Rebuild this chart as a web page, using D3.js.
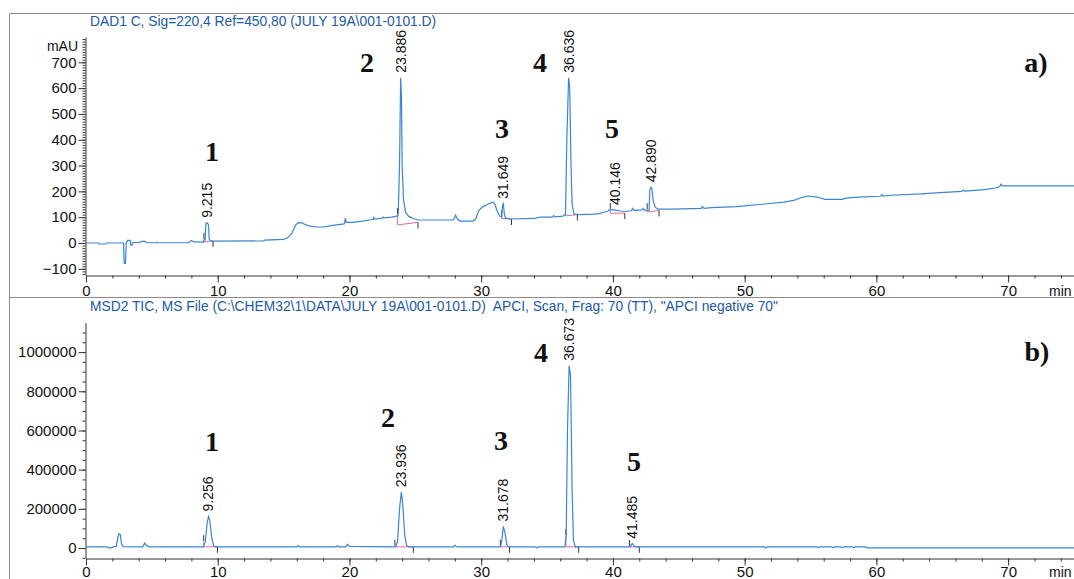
<!DOCTYPE html>
<html>
<head>
<meta charset="utf-8">
<script src="https://cdn.jsdelivr.net/npm/d3@7"></script>
<style>
  body { margin: 0; background: #fff; }
  svg { display: block; font-family: "Liberation Sans", Arial, sans-serif; }
</style>
</head>
<body>
<svg class="chart" width="1074" height="579"></svg>
<script>
// values

var dadTitle = "DAD1 C, Sig=220,4 Ref=450,80 (JULY 19A\\001-0101.D)";
var ticTitle = 'MSD2 TIC, MS File (C:\\CHEM32\\1\\DATA\\JULY 19A\\001-0101.D)  APCI, Scan, Frag: 70 (TT), "APCI negative 70"';

var timeTicks = [0, 10, 20, 30, 40, 50, 60, 70];
var dadTicks = [-100, 0, 100, 200, 300, 400, 500, 600, 700];
var ticTicks = [0, 200000, 400000, 600000, 800000, 1000000];

// [time (min), absorbance (mAU)]
var dadTrace = [
  [0, 0], [0.95, 0], [1.0, -4], [1.5, -4], [1.55, 0], [2.85, 0], [2.9, -79], [3.0, -79], [3.05, 0],
  [3.15, 10], [3.35, 10], [3.4, -8], [3.5, -8], [3.55, 2], [4.1, 2], [4.2, 6], [4.5, 6], [4.6, 1],
  [5.3, 1], [5.35, 3], [5.45, 1], [7.8, 1], [8.0, 10], [8.2, 4], [8.9, 3], [8.95, 12], [9.05, 12],
  [9.1, 75], [9.2, 78], [9.3, 70], [9.35, 15], [9.45, 9], [9.6, 7], [13.5, 8], [13.55, 11], [15.0, 14],
  [15.3, 20], [15.6, 35], [15.9, 68], [16.1, 79], [16.4, 78], [16.7, 70], [17.0, 65], [17.5, 62],
  [18.0, 62], [18.5, 66], [19.0, 70], [19.6, 74], [19.7, 96], [19.75, 80], [20.2, 80], [21.0, 85],
  [21.6, 90], [21.8, 92], [21.85, 99], [21.9, 93], [22.5, 96], [22.55, 101], [22.6, 97], [23.2, 100],
  [23.6, 104], [23.7, 108], [23.8, 300], [23.886, 640], [23.95, 560], [24.0, 300], [24.1, 170],
  [24.25, 120], [24.5, 103], [24.9, 94], [25.2, 89], [27.9, 89], [28.05, 108], [28.2, 93], [28.4, 85],
  [29.4, 85], [29.6, 95], [29.8, 125], [30.1, 140], [30.5, 150], [30.9, 158], [31.05, 150], [31.2, 125],
  [31.4, 105], [31.55, 100], [31.62, 145], [31.68, 152], [31.75, 115], [31.85, 96], [32.2, 93],
  [34.0, 95], [34.5, 100], [35.4, 100], [35.5, 106], [35.6, 101], [36.2, 104], [36.4, 112], [36.5, 400],
  [36.636, 640], [36.72, 600], [36.82, 300], [36.9, 150], [37.05, 112], [37.5, 110], [38.5, 112],
  [39.0, 114], [39.2, 118], [39.6, 122], [39.7, 128], [40.1, 128], [40.6, 124], [41.0, 122], [41.4, 125],
  [41.5, 134], [41.6, 126], [42.2, 128], [42.3, 134], [42.4, 127], [42.75, 127], [42.8, 205],
  [42.89, 216], [42.95, 212], [43.05, 165], [43.2, 140], [43.4, 131], [44.5, 131], [46.7, 134],
  [46.8, 141], [46.9, 134], [47.5, 137], [49.4, 141], [51.3, 150], [53.0, 158], [53.8, 166], [54.3, 176],
  [54.8, 182], [55.5, 178], [56.1, 169], [57.4, 169], [57.7, 174], [58.6, 178], [60.3, 181], [60.4, 187],
  [60.5, 182], [61.1, 185], [63.4, 190], [64.8, 195], [66.5, 200], [66.6, 205], [66.7, 201], [68.2, 207],
  [69.0, 213], [69.35, 218], [69.45, 228], [69.55, 221], [75.2, 221]
];

// [time (min), total ion counts]
var ticTrace = [
  [0, 6000], [1.6, 6000], [1.7, 1000], [1.95, 1000], [2.05, 6000], [2.3, 8000], [2.4, 50000],
  [2.5, 73000], [2.6, 68000], [2.7, 20000], [2.8, 7000], [4.3, 6000], [4.45, 25000], [4.6, 12000],
  [4.8, 6000], [8.9, 6000], [9.05, 30000], [9.2, 130000], [9.3, 161000], [9.4, 140000], [9.55, 50000],
  [9.7, 10000], [9.85, 6000], [16.0, 6000], [16.1, 13000], [16.2, 6000], [19.0, 6000], [19.1, 11000],
  [19.2, 6000], [19.7, 6000], [19.85, 19000], [20.0, 8000], [23.5, 6000], [23.65, 30000], [23.8, 200000],
  [23.936, 285000], [24.05, 220000], [24.2, 60000], [24.35, 12000], [24.5, 6000], [27.9, 6000],
  [28.0, 15000], [28.15, 6000], [31.45, 6000], [31.55, 30000], [31.678, 110000], [31.8, 80000],
  [31.95, 15000], [32.1, 6000], [34.1, 6000], [34.2, 0], [34.3, 6000], [36.35, 6000], [36.45, 60000],
  [36.55, 600000], [36.673, 930000], [36.78, 880000], [36.9, 300000], [37.0, 40000], [37.15, 6000],
  [41.3, 6000], [41.42, 20000], [41.5, 22000], [41.6, 10000], [41.7, 6000], [51.5, 6000], [51.6, 0],
  [51.7, 6000], [55.5, 6000], [55.6, 1000], [55.7, 6000], [56.6, 6000], [56.7, 1000], [56.8, 6000],
  [57.3, 6000], [57.4, 1000], [57.5, 6000], [58.2, 6000], [58.3, 1000], [58.4, 6000], [59.2, 6000],
  [59.3, 1000], [75.2, 1000]
];

var dadPeaks = ["9.215", "23.886", "31.649", "36.636", "40.146", "42.890"];
var ticPeaks = ["9.256", "23.936", "31.678", "36.673", "41.485"];

// integration baselines: [start min, start value, end min, end value]
var dadIntegration = [
  [8.95, 4, 9.64, 8], [23.65, 70, 25.2, 80], [31.55, 95, 32.3, 93], [36.4, 105, 37.3, 110],
  [39.8, 115, 40.9, 116], [42.6, 120, 43.5, 126]
];
var ticIntegration = [
  [8.93, 6000, 9.98, 6000], [23.45, 6000, 24.85, 6000], [31.45, 6000, 32.15, 6000],
  [36.43, 6000, 37.4, 6000], [41.25, 6000, 42.0, 6000]
];

var compoundNames = ["1", "2", "3", "4", "5"];

var svg = d3.select(".chart");

var lineColor = "#3a86d0";
var pinkColor = "#e06aa8";
var titleColor = "#1c5aa8";
var axisColor = "#333";
var labelFont = "'Liberation Sans', Arial, sans-serif";

// frame
svg.append("path")
  .attr("d", "M1074,13.5H9.5V579")
  .attr("fill", "none")
  .attr("stroke", "#8a8a8a")
  .attr("stroke-width", 1);
svg.append("line")
  .attr("x1", 9.5).attr("x2", 1074)
  .attr("y1", 297.5).attr("y2", 297.5)
  .attr("stroke", "#8a8a8a")
  .attr("stroke-width", 1);

var x = d3.scaleLinear().domain([0, 75]).range([86, 1074]);

function drawPanel(p) {
  var y = d3.scaleLinear().domain(p.yDomain).range([p.bottom, p.top]);
  var g = svg.append("g");

  // title
  g.append("text")
    .attr("x", 90)
    .attr("y", p.titleY)
    .attr("fill", titleColor)
    .attr("font-size", "13.8px")
    .style("white-space", "pre")
    .text(p.title);

  // y axis, minor then major
  g.append("g")
    .attr("transform", "translate(85.5,0)")
    .call(d3.axisLeft(y).tickValues(d3.range(p.minorStart, p.yDomain[1], p.minorStep)).tickSize(3).tickFormat(""))
    .call(function (s) { s.select(".domain").remove(); s.selectAll("line").attr("stroke", axisColor); });
  g.append("g")
    .attr("transform", "translate(85.5,0)")
    .call(d3.axisLeft(y).tickValues(p.yTicks).tickFormat(d3.format("d")).tickSize(7).tickSizeOuter(0).tickPadding(2))
    .call(function (s) {
      s.select(".domain").attr("stroke", axisColor);
      s.selectAll("line").attr("stroke", axisColor);
      s.selectAll("text").attr("font-size", "15px").attr("fill", "#111").attr("font-family", labelFont);
    });

  // x axis
  var xAxisY = p.bottom + 0.5;
  g.append("g")
    .attr("transform", "translate(0," + xAxisY + ")")
    .call(d3.axisBottom(x).tickValues(d3.range(2, 76, 2)).tickSize(3).tickFormat(""))
    .call(function (s) { s.select(".domain").remove(); s.selectAll("line").attr("stroke", axisColor); });
  g.append("g")
    .attr("transform", "translate(0," + xAxisY + ")")
    .call(d3.axisBottom(x).tickValues(timeTicks).tickSize(7).tickSizeOuter(0).tickPadding(p.xPad))
    .call(function (s) {
      s.select(".domain").attr("stroke", axisColor);
      s.selectAll("line").attr("stroke", axisColor);
      s.selectAll("text").attr("font-size", "15px").attr("fill", "#111").attr("font-family", labelFont);
    });
  g.append("text")
    .attr("x", 1049)
    .attr("y", xAxisY + 7 + p.xPad + 10)
    .attr("font-size", "14px")
    .attr("fill", "#111")
    .text("min");

  if (p.unit) {
    g.append("text")
      .attr("x", 78)
      .attr("y", 51)
      .attr("text-anchor", "end")
      .attr("font-size", "14px")
      .attr("fill", "#111")
      .text(p.unit);
  }

  // integration baselines
  var bis = d3.bisector(function (d) { return d[0]; }).left;
  function traceAt(t) {
    var i = Math.min(bis(p.trace, t), p.trace.length - 1);
    return p.trace[i][1];
  }
  p.integration.forEach(function (d) {
    g.append("path")
      .attr("d", d3.line()([[x(d[0]), y(traceAt(d[0]))], [x(d[0]), y(d[1])], [x(d[2]), y(d[3])]]))
      .attr("fill", "none")
      .attr("stroke", pinkColor)
      .attr("stroke-width", 1);
    g.append("line")
      .attr("x1", x(d[0])).attr("x2", x(d[0]))
      .attr("y1", y(traceAt(d[0])) - 1).attr("y2", y(traceAt(d[0])) - 7)
      .attr("stroke", axisColor);
    g.append("line")
      .attr("x1", x(d[2])).attr("x2", x(d[2]))
      .attr("y1", y(d[3])).attr("y2", y(d[3]) + 6)
      .attr("stroke", axisColor);
  });

  // trace
  g.append("path")
    .datum(p.trace)
    .attr("d", d3.line().x(function (d) { return x(d[0]); }).y(function (d) { return y(d[1]); }))
    .attr("fill", "none")
    .attr("stroke", lineColor)
    .attr("stroke-width", 1.2);

  // retention time labels
  p.peaks.forEach(function (rt) {
    var t = +rt;
    var top = d3.max(p.trace.filter(function (d) { return Math.abs(d[0] - t) < 0.3; }), function (d) { return d[1]; });
    var px = x(t) + 5, py = y(top) - 5;
    g.append("text")
      .attr("transform", "translate(" + px + "," + py + ") rotate(-90)")
      .attr("font-size", "14px")
      .attr("fill", "#111")
      .text(rt);
  });

  // compound numbers and panel letter
  compoundNames.forEach(function (name, i) {
    g.append("text")
      .attr("x", p.namePos[i][0])
      .attr("y", p.namePos[i][1])
      .attr("text-anchor", "middle")
      .attr("font-family", "'Liberation Serif', 'Times New Roman', serif")
      .attr("font-weight", "bold")
      .attr("font-size", "28px")
      .attr("fill", "#111")
      .text(name);
  });
  g.append("text")
    .attr("x", p.letterPos[0])
    .attr("y", p.letterPos[1])
    .attr("text-anchor", "middle")
    .attr("font-family", "'Liberation Serif', 'Times New Roman', serif")
    .attr("font-weight", "bold")
    .attr("font-size", "28px")
    .attr("fill", "#111")
    .text(p.letter);
}

drawPanel({
  title: dadTitle, titleY: 25.5, unit: "mAU",
  yDomain: [-124, 798], top: 37, bottom: 275,
  yTicks: dadTicks, minorStart: -120, minorStep: 10,
  trace: dadTrace, peaks: dadPeaks, integration: dadIntegration, xPad: 3,
  namePos: [[212, 161], [367, 72], [502, 138], [540, 72], [612, 138]],
  letter: "a)", letterPos: [1036, 72]
});

drawPanel({
  title: ticTitle, titleY: 310.5, unit: null,
  yDomain: [-51000, 1150000], top: 322.7, bottom: 558,
  yTicks: ticTicks, minorStart: -50000, minorStep: 50000,
  trace: ticTrace, peaks: ticPeaks, integration: ticIntegration, xPad: 1,
  namePos: [[212, 451], [388, 427], [501, 450], [541, 362], [634, 471]],
  letter: "b)", letterPos: [1037, 361]
});
</script>
</body>
</html>
